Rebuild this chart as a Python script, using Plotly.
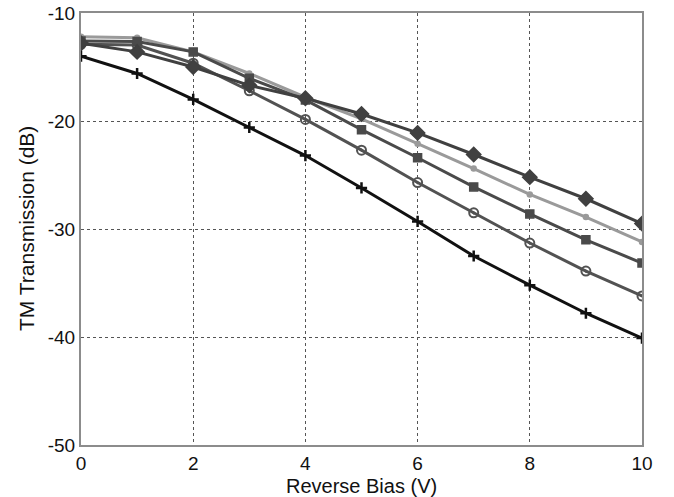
import plotly.graph_objects as go

bias = [0, 1, 2, 3, 4, 5, 6, 7, 8, 9, 10]
s_cross = [-14.0, -15.6, -18.0, -20.6, -23.2, -26.2, -29.3, -32.5, -35.2, -37.8, -40.1]
s_diamond = [-12.8, -13.6, -15.0, -16.7, -17.9, -19.35, -21.1, -23.1, -25.2, -27.2, -29.5]
s_light = [-12.2, -12.3, -13.6, -15.6, -17.8, -19.8, -22.1, -24.4, -26.8, -28.9, -31.2]
s_square = [-12.6, -12.65, -13.6, -16.05, -18.05, -20.8, -23.4, -26.1, -28.6, -31.0, -33.15]
s_circle = [-12.9, -12.96, -14.65, -17.2, -19.85, -22.7, -25.7, -28.5, -31.3, -33.9, -36.2]

x_ticks = [0, 2, 4, 6, 8, 10]
y_ticks = [-50, -40, -30, -20, -10]
y_ticktext = ["-50", "-40", "-30", "-20", "-10"]
x_title = "Reverse Bias (V)"
y_title = "TM Transmission (dB)"

fig = go.Figure()

def add(y, color, symbol, size, lw=3, mlw=1.5):
    fig.add_trace(go.Scatter(
        x=bias, y=y, mode="lines+markers",
        line=dict(color=color, width=lw),
        marker=dict(symbol=symbol, size=size, color=color,
                    line=dict(color=color, width=mlw)),
        showlegend=False))

add(s_light, "#9a9a9a", "circle", 5)
add(s_circle, "#525252", "circle-open-dot", 9, mlw=2)
add(s_square, "#4a4a4a", "square", 8)
add(s_diamond, "#404040", "diamond", 11)
add(s_cross, "#111111", "cross-thin", 8, mlw=2.5)

font_f = "Liberation Sans, Arial"
axis_common = dict(
    showline=True, linecolor="#8c8c8c", linewidth=2, mirror=True,
    showgrid=True, gridcolor="#555555", griddash="dot", gridwidth=1,
    zeroline=False, ticks="", automargin=False,
    tickfont=dict(family=font_f, size=19, color="#111"),
)

fig.update_layout(
    width=674, height=497,
    margin=dict(l=81, r=32, t=13, b=52),
    plot_bgcolor="white", paper_bgcolor="white",
    xaxis=dict(range=[0, 10], tickvals=x_ticks, **axis_common),
    yaxis=dict(range=[-50, -10], tickvals=y_ticks, ticktext=y_ticktext, **axis_common),
    annotations=[
        dict(text=x_title, xref="paper", yref="paper", x=0.5, y=-0.094,
             xanchor="center", yanchor="middle", showarrow=False,
             font=dict(family=font_f, size=20, color="#111")),
        dict(text=y_title, xref="paper", yref="paper", x=-0.098, y=0.5,
             xanchor="center", yanchor="middle", textangle=-90, showarrow=False,
             font=dict(family=font_f, size=21, color="#111")),
    ],
)

fig.write_html("out.html")
